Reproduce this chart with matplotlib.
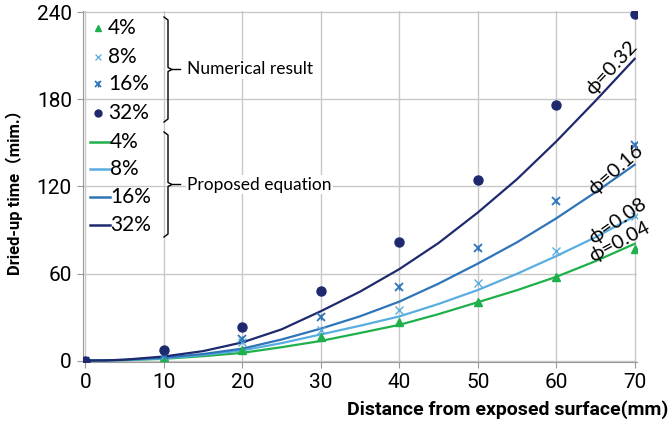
import matplotlib
matplotlib.use("Agg")
import matplotlib.pyplot as plt

# measured points (numerical result)
x_pts = [0, 10, 20, 30, 40, 50, 60, 70]
num_04 = [0, 2.5, 7.5, 16, 26.5, 40.2, 57.3, 76.6]
num_08 = [0, 3, 12.6, 21.2, 34.9, 53.2, 75.3, 99.9]
num_16 = [0, 4, 15, 29.9, 50.9, 77.8, 109.7, 148.5]
num_32 = [0, 7.5, 23.3, 47.9, 81.4, 124.5, 176.3, 239]

# proposed equation curves, every 5 mm
x_eq = [0, 2.5, 5, 10, 15, 20, 25, 30, 35, 40, 45, 50, 55, 60, 65, 70]
eq_04 = [0, 0.05, 0.3, 1.2, 3, 5.3, 9.2, 13.5, 19, 24.6, 32, 40.2, 48.5, 57.7, 68.5, 80.5]
eq_08 = [0, 0.05, 0.4, 1.5, 3.8, 7, 12, 18, 24, 30.4, 39, 48.6, 59.8, 72, 85, 99.5]
eq_16 = [0, 0.1, 0.5, 2, 4.5, 8.2, 14.5, 22, 30.5, 40.6, 53, 66.8, 81.5, 98, 116, 135]
eq_32 = [0, 0.1, 0.6, 2.8, 6.5, 12.5, 21.5, 34, 47.5, 63, 81, 102, 125, 151, 179, 208]

labels = ["4%", "8%", "16%", "32%"]
phi_labels = ["ϕ=0.04", "ϕ=0.08", "ϕ=0.16", "ϕ=0.32"]

colors = ["#1fb04b", "#5aade0", "#2e74b8", "#1f2a6e"]

tick_font = ["Roboto", "DejaVu Sans"]
text_font = ["Lato", "DejaVu Sans"]

W, H = 670, 423
fig = plt.figure(figsize=(W / 100, H / 100), dpi=100)
ax = fig.add_axes([83 / W, 1 - 362 / H, (637 - 83) / W, (362 - 11) / H])

def px(x, y):
    return x / W, 1 - y / H

# curves
for ys, c in zip([eq_04, eq_08, eq_16, eq_32], colors):
    ax.plot(x_eq, ys, color=c, lw=1.6, zorder=3)

# points
ax.plot(x_pts, num_04, ls="none", marker="^", ms=6, color=colors[0], zorder=4)
ax.plot(x_pts, num_08, ls="none", marker="x", ms=6, mew=1.0, color=colors[1], zorder=4)
ax.plot(x_pts, num_16, ls="none", marker="x", ms=6, mew=1.3, color=colors[2], zorder=4)
ax.plot(x_pts, num_16, ls="none", marker="|", ms=5, mew=1.0, color=colors[2], zorder=4)
ax.plot(x_pts, num_32, ls="none", marker="o", ms=6.5, color=colors[3], zorder=4)

ax.set_xticks(range(0, 71, 10))
ax.set_yticks(range(0, 241, 60))
ax.grid(True, color="#c8c8c8", lw=1.0)
ax.set_axisbelow(True)
for s in ["top", "right"]:
    ax.spines[s].set_visible(False)
for s in ["left", "bottom"]:
    ax.spines[s].set_color("#999999")
ax.tick_params(length=4, color="#999999", labelsize=15, pad=4)
for lab in ax.get_xticklabels() + ax.get_yticklabels():
    lab.set_family(tick_font)
ax.set_xlim(-0.3, 70.3)
ax.set_ylim(-1, 241)

fig.text(668 / W, 1 - 410 / H, "Distance from exposed surface(mm)", ha="right", va="center",
         fontsize=14, fontweight="bold", family=tick_font)
fig.text(14 / W, 1 - 188 / H, "Dried-up time（mim.）", rotation=90, ha="center", va="center",
         fontsize=12, fontweight="bold", family=["Roboto", "Noto Sans CJK JP"])

# phi labels along curves
phi_pos = [(619, 242, 28), (617, 221, 35), (616, 170, 41), (612, 68, 47)]
for (x, y, r), t in zip(phi_pos, phi_labels):
    fig.text(*px(x, y), t, rotation=r, ha="center", va="center", fontsize=14.5,
             rotation_mode="anchor", family=text_font)

# hand-made legend
rows_pts = [28, 57, 84, 113]
rows_lin = [142, 169, 197, 225]

def fig_marker(x, y, **kw):
    fig.lines.append(plt.Line2D([x], [y], ls="none", transform=fig.transFigure, **kw))

for i in range(4):
    x, y = px(98, rows_pts[i])
    if i == 0:
        fig_marker(x, y, marker="^", ms=5, color=colors[i])
    elif i == 1:
        fig_marker(x, y, marker="x", ms=5, mew=0.9, color=colors[i])
    elif i == 2:
        fig_marker(x, y, marker="x", ms=5, mew=1.3, color=colors[i])
        fig_marker(x, y, marker="|", ms=4, mew=1.0, color=colors[i])
    else:
        fig_marker(x, y, marker="o", ms=5, color=colors[i])
    fig.text(*px(108, rows_pts[i]), labels[i], ha="left", va="center", fontsize=15, family=text_font)
    x0, y0 = px(90, rows_lin[i])
    x1, _ = px(110, rows_lin[i])
    fig.lines.append(plt.Line2D([x0, x1], [y0, y0], color=colors[i], lw=1.8,
                                transform=fig.transFigure))
    fig.text(*px(110, rows_lin[i]), labels[i], ha="left", va="center", fontsize=15, family=text_font)

# braces
def brace(top, bot, xb=168):
    mid = (top + bot) / 2
    pts = [(xb - 4, top), (xb, top + 3), (xb, mid - 2), (xb + 4, mid), (xb, mid + 2),
           (xb, bot - 3), (xb - 4, bot)]
    xs = [p[0] / W for p in pts]
    ys = [1 - p[1] / H for p in pts]
    fig.lines.append(plt.Line2D(xs, ys, color="black", lw=1.0, transform=fig.transFigure))
    fig.lines.append(plt.Line2D([(xb + 4) / W, (xb + 12) / W], [1 - mid / H] * 2, color="black",
                                lw=1.0, transform=fig.transFigure))
    return mid

m1 = brace(17, 122)
m2 = brace(132, 237)
fig.text(*px(187, m1), "Numerical result", ha="left", va="center", fontsize=12.5,
         family=text_font, bbox=dict(fc="white", ec="none", pad=1))
fig.text(*px(187, m2), "Proposed equation", ha="left", va="center", fontsize=12.5,
         family=text_font, bbox=dict(fc="white", ec="none", pad=1))

fig.savefig("out.png", dpi=100)
